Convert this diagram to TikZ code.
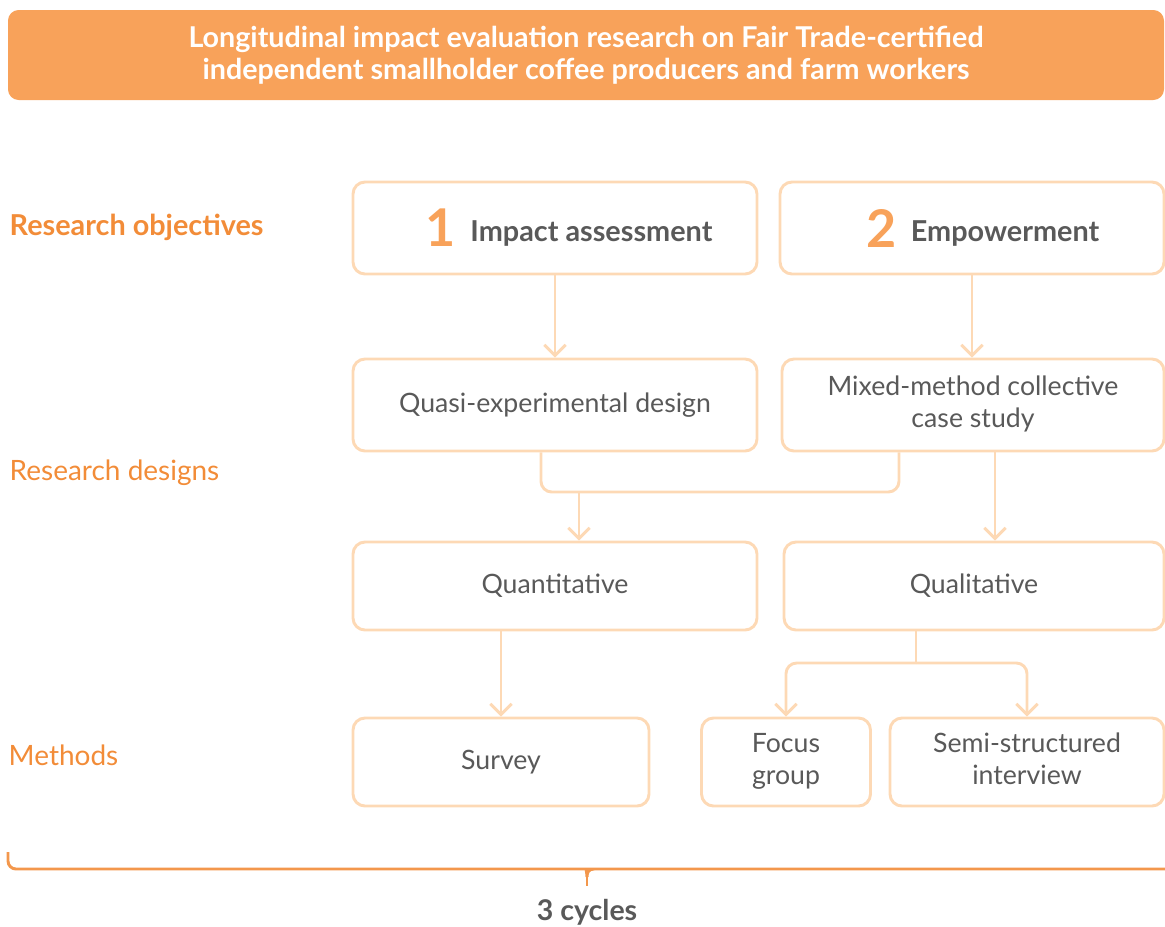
\documentclass[tikz,border=0pt]{standalone}
\usepackage{fontspec}
\setmainfont{Lato}
\usepackage{tikz}
\usetikzlibrary{arrows.meta}

\definecolor{headorange}{HTML}{F8A25A}
\definecolor{peach}{HTML}{FDD9B5}
\definecolor{labelorange}{HTML}{F28C38}
\definecolor{textgrey}{HTML}{595959}
\newdimen\px \px=0.75pt

\begin{document}
\begin{tikzpicture}[x=0.75pt,y=-0.75pt]
		\tikzstyle{box}=[draw=peach,line width=2.2pt,rounded corners=9pt,text=textgrey,align=center,font=\fontsize{20}{24}\selectfont]
		\tikzstyle{link}=[draw=peach,line width=2.2pt,rounded corners=8pt]
		\tikzstyle{arr}=[link,-{Straight Barb[length=8pt,width=16pt]}]
		\tikzstyle{rowlabel}=[anchor=west,text=labelorange,font=\fontsize{21}{25}\selectfont]
		
		\useasboundingbox (0,0) rectangle (1165,926);
		
		\node[fill=headorange,rounded corners=8pt,minimum width=1156\px,minimum height=90\px,text=white,align=center,font=\fontsize{21.5}{24}\selectfont\bfseries](title) at (586,55){Longitudinal impact evaluation research on Fair Trade-certified\\independent smallholder coffee producers and farm workers};
		
		\node[rowlabel,font=\fontsize{21.6}{25}\selectfont\bfseries](objectives) at (5,227){Research objectives};
		\node[rowlabel](designs) at (5,473){Research designs};
		\node[rowlabel](methods) at (4,755){Methods};
		
		\node[box,minimum width=404\px,minimum height=92\px](impact) at (555,228){\hspace*{21pt}{\color{headorange}\fontsize{39}{40}\selectfont\bfseries 1}\hspace{11pt}\raisebox{4pt}{\fontsize{21.6}{24}\selectfont\bfseries Impact assessment}};
		\node[box,minimum width=384\px,minimum height=92\px](empower) at (972,228){\hspace*{16pt}{\color{headorange}\fontsize{39}{40}\selectfont\bfseries 2}\hspace{11pt}\raisebox{4pt}{\fontsize{21.6}{24}\selectfont\bfseries Empowerment}};
		
		\node[box,minimum width=404\px,minimum height=92\px](quasi) at (555,405){Quasi-experimental design};
		\node[box,minimum width=382\px,minimum height=92\px](mixed) at (973,405){\raisebox{-3pt}{\begin{tabular}{@{}c@{}}Mixed-method collective\\case study\end{tabular}}};
		
		\node[box,minimum width=404\px,minimum height=88\px](quant) at (555,586){Quantitative};
		\node[box,minimum width=380\px,minimum height=88\px](qual) at (974,586){Qualitative};
		
		\node[box,minimum width=296\px,minimum height=88\px](survey) at (501,762){Survey};
		\node[box,minimum width=169\px,minimum height=88\px](focus) at (786,762){\raisebox{-3pt}{\begin{tabular}{@{}c@{}}Focus\\group\end{tabular}}};
		\node[box,minimum width=274\px,minimum height=88\px](semi) at (1027,762){\raisebox{-3pt}{\begin{tabular}{@{}c@{}}Semi-structured\\interview\end{tabular}}};
		
		\coordinate(merge) at (579,492);
		\coordinate(split) at (916,663);
		
		\draw[arr] (impact) -- (quasi);
		\draw[arr] (empower.south) -- (empower.south |- mixed.north);
		
		\draw[link] ([xshift=-14\px]quasi.south) |- (merge) -| ([xshift=-74\px]mixed.south);
		\draw[arr] (merge) -- (merge |- quant.north);
		\draw[arr] ([xshift=22\px]mixed.south) -- ([xshift=22\px]mixed.south |- qual.north);
		
		\draw[arr] (quant.south -| survey) -- (survey.north);
		\draw[link] (qual.south -| split) -- (split);
		\draw[arr] (split) -| (focus.north);
		\draw[arr] (split) -| (semi.north);
		
		\node[text=textgrey,font=\fontsize{21.4}{24}\selectfont\bfseries](cycles) at (587,912){3 cycles};
		\coordinate(tip) at (587,877);
		\coordinate(stem) at (587,886);
		\draw[draw=labelorange!90,line width=2.2pt] (8,852) [rounded corners=6pt] |- (580,869) [sharp corners] .. controls (585,869) and (587,872) .. (tip) .. controls (587,872) and (589,869) .. (594,869) -- (1165,869);
		\draw[draw=labelorange!90,line width=2.2pt] (tip) -- (stem);
		\end{tikzpicture}
\end{document}
